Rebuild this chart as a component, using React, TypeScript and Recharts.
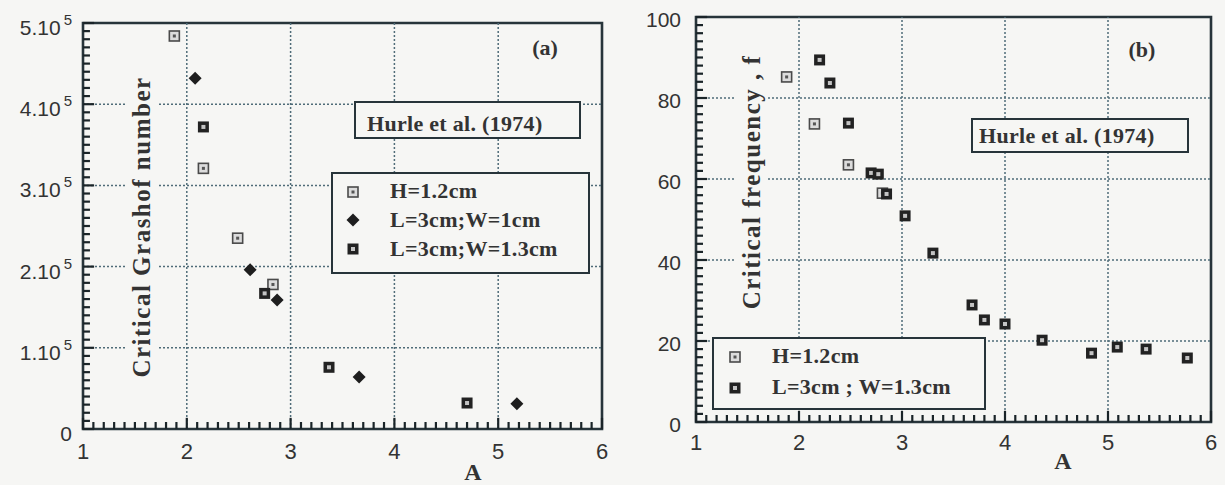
import { ScatterChart, Scatter, XAxis, YAxis, ReferenceLine, ReferenceArea } from "recharts";

const BG = "#f6f6f4";
const INK = "#27343a";
const TICK = "#1a2428";
const GRID = "#4f6c78";
const TXT = "#333333";
const SANS = "'Liberation Sans', Arial, sans-serif";
const SERIF = "'Liberation Serif', 'Times New Roman', serif";

// (a) critical Grashof number vs A
const aH_A = [1.88, 2.16, 2.49, 2.83];
const aH_Gr = [484000, 321000, 235000, 178000];
const aW1_A = [2.08, 2.61, 2.87, 3.66, 5.18];
const aW1_Gr = [432000, 196000, 159000, 64000, 31000];
const aW13_A = [2.16, 2.75, 3.37, 4.7];
const aW13_Gr = [372000, 167000, 76000, 32000];

// (b) critical frequency vs A
const bH_A = [1.88, 2.15, 2.48, 2.81];
const bH_f = [85.2, 73.6, 63.5, 56.5];
const bW_A = [2.2, 2.3, 2.48, 2.7, 2.77, 2.85, 3.03, 3.3, 3.68, 3.8, 4.0, 4.36, 4.84, 5.09, 5.37, 5.77];
const bW_f = [89.4, 83.7, 73.8, 61.5, 61.2, 56.3, 50.9, 41.7, 28.9, 25.2, 24.2, 20.2, 17.0, 18.5, 18.0, 15.8];

const xMajor = [1, 2, 3, 4, 5, 6];
const yMajorA = [0, 100000, 200000, 300000, 400000, 500000];
const yMajorB = [0, 20, 40, 60, 80, 100];
const xGrid = [2, 3, 4, 5];
const yGridA = [100000, 200000, 300000, 400000];
const yGridB = [20, 40, 60, 80];

// minor ticks, ten per major division
const xMinor = Array.from({ length: 51 }, (_, i) => 1 + i / 10);
const yMinorA = Array.from({ length: 51 }, (_, i) => i * 10000);
const yMinorB = Array.from({ length: 51 }, (_, i) => i * 2);

const zip = (xs: number[], ys: number[]) => xs.map((x, i) => ({ x, y: ys[i] }));
const isMajor = (v: number, step: number) => Math.abs(v / step - Math.round(v / step)) < 1e-6;

function OpenSq({ cx, cy }: { cx: number; cy: number }) {
  return (
    <g>
      <rect x={cx - 5} y={cy - 5} width={10} height={10} fill="#dcdcdc" stroke="#4a4a4a" strokeWidth={1.6} />
      <rect x={cx - 1.5} y={cy - 1.5} width={3} height={3} fill="#555" />
    </g>
  );
}

function DarkSq({ cx, cy }: { cx: number; cy: number }) {
  return (
    <g>
      <rect x={cx - 5.5} y={cy - 5.5} width={11} height={11} fill="#222" />
      <rect x={cx - 2} y={cy - 2} width={4} height={4} fill="#c4c4c4" />
    </g>
  );
}

function Diamond({ cx, cy }: { cx: number; cy: number }) {
  return <polygon points={`${cx},${cy - 6.5} ${cx + 6.5},${cy} ${cx},${cy + 6.5} ${cx - 6.5},${cy}`} fill="#1e1e1e" />;
}

function XTick(props: any) {
  const { x, y, payload, gap } = props;
  return (
    <text x={x} y={y + gap} textAnchor="middle" fontFamily={SANS} fontSize={22} fill={TXT}>
      {Math.round(payload.value)}
    </text>
  );
}

function YTick(props: any) {
  const { x, y, payload, step, pow, gap, dyl } = props;
  const v = payload.value;
  if (pow && v !== 0) {
    return (
      <text x={x - gap} y={y + dyl} textAnchor="end" fontFamily={SANS} fontSize={21} fill={TXT}>
        <tspan>{`${Math.round(v / step)}.10`}</tspan>
        <tspan dx={3} dy={-10} fontSize={15}>5</tspan>
      </text>
    );
  }
  return (
    <text x={x - gap} y={y + dyl} textAnchor="end" fontFamily={SANS} fontSize={21} fill={TXT}>
      {Math.round(v)}
    </text>
  );
}

// inward tick marks drawn through the chart's own scales (lengths in data units)
function tickMarks(xs: number[], ys: number[], xStep: number, yStep: number, x0: number, y0: number, xLen: number, yLen: number) {
  const out = [];
  for (const v of xs) {
    const len = isMajor(v - x0, xStep) ? yLen * 1.6 : yLen;
    out.push(
      <ReferenceLine key={"tx" + v} segment={[{ x: v, y: y0 }, { x: v, y: y0 + len }]} stroke={TICK} strokeWidth={2.2} ifOverflow="visible" />
    );
  }
  for (const v of ys) {
    const len = isMajor(v - y0, yStep) ? xLen * 1.6 : xLen;
    out.push(
      <ReferenceLine key={"ty" + v} segment={[{ x: x0, y: v }, { x: x0 + len, y: v }]} stroke={TICK} strokeWidth={2.2} ifOverflow="visible" />
    );
  }
  return out;
}

const serifBold = { fontFamily: SERIF, fontWeight: 700, fill: TXT } as const;
const legendText = { ...serifBold, fontSize: 22, letterSpacing: 0.3 } as const;

export default function App() {
  return (
    <div style={{ position: "absolute", left: 0, top: 0, width: 1225, height: 485, background: BG, overflow: "hidden" }}>
      <div style={{ position: "absolute", left: 0, top: 0 }}>
        <ScatterChart width={620} height={485} margin={{ top: 23, right: 18, bottom: 0, left: 13 }}>
          <XAxis type="number" dataKey="x" domain={[1, 6]} ticks={xMajor} interval={0} height={56}
            tickSize={0} tickMargin={0} tickLine={false} axisLine={false} tick={(p: any) => <XTick {...p} gap={30} />} />
          <YAxis type="number" dataKey="y" domain={[0, 500000]} ticks={yMajorA} interval={0} width={70}
            tickSize={0} tickMargin={0} tickLine={false} axisLine={false}
            tick={(p: any) => <YTick {...p} step={100000} pow gap={11} dyl={12} />} />
          {xGrid.map((v) => (
            <ReferenceLine key={"x" + v} x={v} stroke={GRID} strokeWidth={1.5} strokeDasharray="2 2" />
          ))}
          {yGridA.map((v) => (
            <ReferenceLine key={"y" + v} y={v} stroke={GRID} strokeWidth={1.5} strokeDasharray="2 2" />
          ))}
          {tickMarks(xMinor, yMinorA, 1, 100000, 1, 0, 0.067, 8600)}
          <ReferenceArea x1={1} x2={6} y1={0} y2={500000} fill="none" stroke={INK} strokeWidth={2.6} />
          <Scatter data={zip(aH_A, aH_Gr)} isAnimationActive={false} shape={(p: any) => <OpenSq cx={p.cx} cy={p.cy} />} />
          <Scatter data={zip(aW1_A, aW1_Gr)} isAnimationActive={false} shape={(p: any) => <Diamond cx={p.cx} cy={p.cy} />} />
          <Scatter data={zip(aW13_A, aW13_Gr)} isAnimationActive={false} shape={(p: any) => <DarkSq cx={p.cx} cy={p.cy} />} />
        </ScatterChart>
      </div>
      <div style={{ position: "absolute", left: 620, top: 0 }}>
        <ScatterChart width={605} height={485} margin={{ top: 17, right: 14, bottom: 0, left: 6 }}>
          <XAxis type="number" dataKey="x" domain={[1, 6]} ticks={xMajor} interval={0} height={63}
            tickSize={0} tickMargin={0} tickLine={false} axisLine={false} tick={(p: any) => <XTick {...p} gap={28} />} />
          <YAxis type="number" dataKey="y" domain={[0, 100]} ticks={yMajorB} interval={0} width={70}
            tickSize={0} tickMargin={0} tickLine={false} axisLine={false}
            tick={(p: any) => <YTick {...p} step={20} gap={15} dyl={10} />} />
          {xGrid.map((v) => (
            <ReferenceLine key={"x" + v} x={v} stroke={GRID} strokeWidth={1.5} strokeDasharray="2 2" />
          ))}
          {yGridB.map((v) => (
            <ReferenceLine key={"y" + v} y={v} stroke={GRID} strokeWidth={1.5} strokeDasharray="2 2" />
          ))}
          {tickMarks(xMinor, yMinorB, 1, 20, 1, 0, 0.068, 1.73)}
          <ReferenceArea x1={1} x2={6} y1={0} y2={100} fill="none" stroke={INK} strokeWidth={2.6} />
          <Scatter data={zip(bH_A, bH_f)} isAnimationActive={false} shape={(p: any) => <OpenSq cx={p.cx} cy={p.cy} />} />
          <Scatter data={zip(bW_A, bW_f)} isAnimationActive={false} shape={(p: any) => <DarkSq cx={p.cx} cy={p.cy} />} />
        </ScatterChart>
      </div>
      <svg width={1225} height={485} style={{ position: "absolute", left: 0, top: 0, pointerEvents: "none" }}>
        {/* axis titles */}
        <rect x={125} y={72} width={32} height={312} fill={BG} />
        <text transform="translate(141,227) rotate(-90)" textAnchor="middle" dominantBaseline="central"
          fontSize={25} letterSpacing={1.5} {...serifBold}>
          Critical Grashof number
        </text>
        <rect x={735} y={46} width={32} height={274} fill={BG} />
        <text transform="translate(751,182) rotate(-90)" textAnchor="middle" dominantBaseline="central"
          fontSize={25} letterSpacing={1.5} {...serifBold}>
          Critical frequency , f
        </text>
        <text x={473} y={480} textAnchor="middle" fontSize={24} {...serifBold}>A</text>
        <text x={1063} y={469} textAnchor="middle" fontSize={24} {...serifBold}>A</text>

        {/* panel (a) annotations */}
        <text x={545} y={55} textAnchor="middle" fontSize={22} {...serifBold}>(a)</text>
        <rect x={355} y={102} width={225} height={36} fill={BG} stroke={INK} strokeWidth={2} />
        <text x={367} y={131} {...legendText}>Hurle et al. (1974)</text>
        <rect x={332} y={173} width={257} height={100} fill={BG} stroke={INK} strokeWidth={2} />
        <OpenSq cx={353} cy={192} />
        <text x={390} y={198} {...legendText}>H=1.2cm</text>
        <Diamond cx={353} cy={220} />
        <text x={390} y={227} {...legendText}>L=3cm;W=1cm</text>
        <DarkSq cx={353} cy={249} />
        <text x={390} y={256} {...legendText}>L=3cm;W=1.3cm</text>

        {/* panel (b) annotations */}
        <text x={1142} y={57} textAnchor="middle" fontSize={22} {...serifBold}>(b)</text>
        <rect x={972} y={119} width={216} height={33} fill={BG} stroke={INK} strokeWidth={2} />
        <text x={979} y={143} {...legendText}>Hurle et al. (1974)</text>
        <rect x={713} y={338} width={272} height={71} fill={BG} stroke={INK} strokeWidth={2} />
        <OpenSq cx={735} cy={357} />
        <text x={772} y={363} {...legendText}>H=1.2cm</text>
        <DarkSq cx={735} cy={388} />
        <text x={772} y={394} {...legendText}>L=3cm ; W=1.3cm</text>
      </svg>
    </div>
  );
}
